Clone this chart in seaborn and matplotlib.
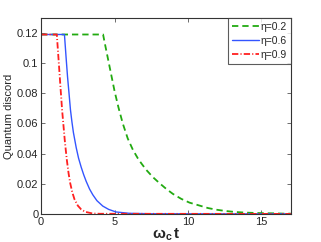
import numpy as np
import pandas as pd
import matplotlib
matplotlib.use("Agg")
import matplotlib.pyplot as plt
import seaborn as sns

# data
t_02 = [0, 4.22, 4.31, 4.54, 4.77, 5.0, 5.27, 5.56, 5.9, 6.25, 6.59, 6.82, 7.16, 7.61, 8.06,
        8.52, 8.97, 9.54, 10.1, 10.8, 11.36, 11.93, 12.6, 13.2, 13.86, 14.4, 15.1, 15.8, 16.5, 17.0]
qd_02 = [0.119, 0.119, 0.1145, 0.1035, 0.0925, 0.0815, 0.0705, 0.0600, 0.0500, 0.0425, 0.0368, 0.0336,
         0.0292, 0.0244, 0.0204, 0.0166, 0.0133, 0.0100, 0.0075, 0.0055, 0.0039, 0.0028, 0.0019,
         0.0013, 0.0009, 0.0007, 0.0005, 0.0004, 0.0002, 0.0002]

t_06 = [0, 1.59, 1.7, 1.8, 1.91, 2.0, 2.1, 2.2, 2.39, 2.55, 2.73, 2.9, 3.07, 3.3, 3.52, 3.8,
        4.2, 4.6, 5.1, 6.0, 7.5, 17.0]
qd_06 = [0.119, 0.119, 0.104, 0.091, 0.079, 0.069, 0.061, 0.054, 0.0440, 0.037, 0.031, 0.026,
         0.0216, 0.0165, 0.0127, 0.0088, 0.0052, 0.003, 0.0013, 0.0004, 0.0001, 0.0]

t_09 = [0, 1.07, 1.2, 1.32, 1.43, 1.52, 1.62, 1.75, 1.87, 1.98, 2.12, 2.27, 2.5, 2.73, 3.0,
        3.5, 4.0, 17.0]
qd_09 = [0.119, 0.119, 0.101, 0.084, 0.069, 0.059, 0.048, 0.036, 0.027, 0.0205, 0.0145, 0.0098,
         0.0055, 0.003, 0.0014, 0.0003, 0.0001, 0.0]

labels = ["η=0.2", "η=0.6", "η=0.9"]
x_ticks = [0, 5, 10, 15]
y_ticks = [0, 0.02, 0.04, 0.06, 0.08, 0.1, 0.12]
y_tick_labels = ["0", "0.02", "0.04", "0.06", "0.08", "0.1", "0.12"]

df = pd.concat([
    pd.DataFrame({"t": t_02, "qd": qd_02, "eta": labels[0]}),
    pd.DataFrame({"t": t_06, "qd": qd_06, "eta": labels[1]}),
    pd.DataFrame({"t": t_09, "qd": qd_09, "eta": labels[2]}),
])

sns.set_style("ticks")
plt.rcParams["font.family"] = ["Liberation Sans", "DejaVu Sans"]
plt.rcParams["mathtext.fontset"] = "custom"
plt.rcParams["mathtext.rm"] = "Liberation Sans"
plt.rcParams["mathtext.bf"] = "Liberation Sans:bold"
plt.rcParams["mathtext.it"] = "Liberation Sans:italic"

fig = plt.figure(figsize=(3.21, 2.42), dpi=100)
ax = fig.add_axes([0.128, 0.116, 0.778, 0.810])

colors = {labels[0]: "#22aa11", labels[1]: "#3355ff", labels[2]: "#ff2020"}
styles = {labels[0]: dict(ls=(0, (3.5, 2.2)), lw=1.3),
          labels[1]: dict(ls="-", lw=1.0),
          labels[2]: dict(ls=(0, (3.5, 1.2, 0.6, 1.2)), lw=1.3)}

for lab in labels:
    sub = df[df["eta"] == lab]
    sns.lineplot(data=sub, x="t", y="qd", ax=ax, color=colors[lab],
                 label=lab, linestyle=styles[lab]["ls"], lw=styles[lab]["lw"],
                 estimator=None, sort=False)

ax.set_xlim(0, 17)
ax.set_ylim(0, 0.13)
ax.set_xticks(x_ticks)
ax.set_yticks(y_ticks)
ax.set_yticklabels(y_tick_labels)
ax.tick_params(direction="in", length=3, width=0.6, labelsize=8, top=True, right=True,
               pad=2, color="#555555")
for s in ax.spines.values():
    s.set_linewidth(0.8)
    s.set_color("#333333")

ax.set_xlabel(r"$\mathbf{\omega_c\,t}$", fontsize=11, labelpad=0)
ax.set_ylabel("Quantum discord", fontsize=8, labelpad=2)

leg = ax.legend(loc="upper right", fontsize=7.5, frameon=True, fancybox=False,
                borderaxespad=0.0, handlelength=2.6, handletextpad=0.2,
                borderpad=0.35, labelspacing=0.4)
leg.get_frame().set_edgecolor("#333333")
leg.get_frame().set_linewidth(0.8)

fig.savefig("out.png", dpi=100)
